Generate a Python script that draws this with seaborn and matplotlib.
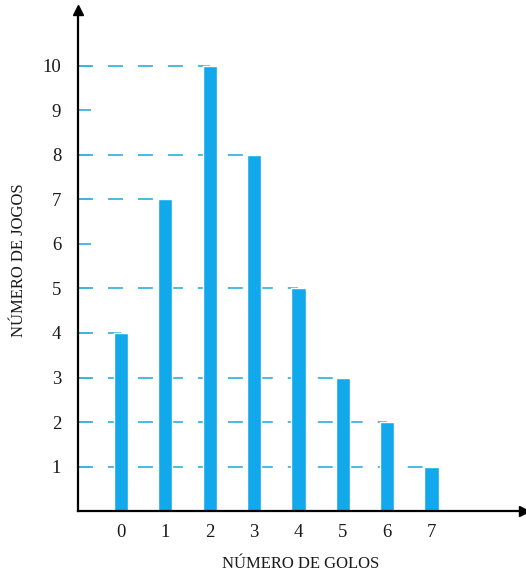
import matplotlib
matplotlib.use('Agg')
from matplotlib import pyplot as plt
import seaborn as sns

# dados do gráfico
golos = [0, 1, 2, 3, 4, 5, 6, 7]
jogos = [4, 7, 10, 8, 5, 3, 2, 1]
y_ticks = [1, 2, 3, 4, 5, 6, 7, 8, 9, 10]

cor_barra = '#12A9EC'
cor_traco = '#3DB5DE'

sns.set_style('white')
plt.rcParams['font.family'] = ['Liberation Serif', 'DejaVu Serif']

fig = plt.figure(figsize=(5.26, 5.71), dpi=100)
ax = fig.add_axes([0.148, 0.105, 0.848, 0.877])

x_min = -0.97

# linhas tracejadas do eixo até à barra (a mais à direita com esse valor)
for nivel in sorted(set(jogos)):
    x_fim = max(g for g, j in zip(golos, jogos) if j == nivel)
    ax.hlines(nivel, x_min, x_fim, colors=cor_traco, linewidth=1.3,
              linestyles=(0, (8.3, 8.3)), zorder=1)

sns.barplot(x=golos, y=jogos, color=cor_barra, width=0.32,
            saturation=1, ax=ax, zorder=2)

ax.set_xlim(x_min, 9.08)
ax.set_ylim(0, 11.25)
ax.set_yticks(y_ticks)
ax.set_xticks(range(len(golos)))
ax.set_xticklabels([str(g) for g in golos])

ax.tick_params(axis='y', direction='in', length=9, width=1.3,
               color=cor_traco, pad=12, labelsize=13.5, left=True,
               labelcolor='#1a1a1a')
ax.tick_params(axis='x', length=0, pad=9, labelsize=13.5, labelcolor='#1a1a1a')

for lado in ['top', 'right']:
    ax.spines[lado].set_visible(False)
for lado in ['left', 'bottom']:
    ax.spines[lado].set_color('black')
    ax.spines[lado].set_linewidth(1.6)

# setas nos eixos
ax.plot(1, 0, '>', color='black', markersize=7, transform=ax.transAxes, clip_on=False)
ax.plot(0, 1, '^', color='black', markersize=7, transform=ax.transAxes, clip_on=False)

ax.set_xlabel('NÚMERO DE GOLOS', fontsize=12, labelpad=11, color='#1a1a1a')
ax.set_ylabel('NÚMERO DE JOGOS', fontsize=12, labelpad=11, color='#1a1a1a')

fig.savefig('out.png', dpi=100)
